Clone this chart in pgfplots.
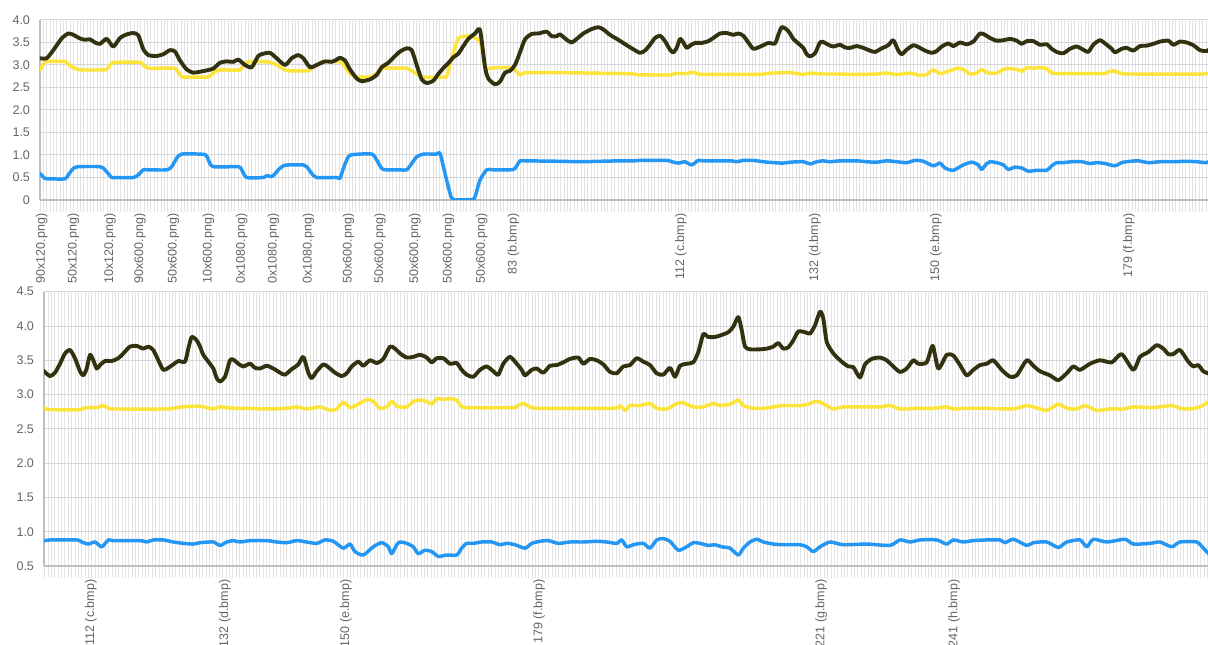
\documentclass[border=0pt]{standalone}
\usepackage{fontspec}
\setmainfont{Liberation Sans}
\usepackage{pgfplots}
\usepackage{pgfplotstable}
\pgfplotsset{compat=1.18}

\definecolor{darkline}{RGB}{50,50,16}
\definecolor{yellowline}{RGB}{252,228,58}
\definecolor{blueline}{RGB}{36,150,243}
\definecolor{gridmajor}{RGB}{214,214,214}
\definecolor{gridminor}{RGB}{228,228,228}
\definecolor{axisgray}{RGB}{190,190,190}
\definecolor{ticktext}{RGB}{100,100,100}

% x = position along the scrolled timeline (one grid step = 3.36 units)
\pgfplotstableread{
u v
0 3.15
6.7 3.15
13.3 3.33
21.7 3.59
28.3 3.70
33.3 3.67
40 3.59
45 3.56
50 3.57
55 3.50
60 3.47
66.7 3.58
73.3 3.41
80 3.60
86.7 3.68
93.3 3.71
98.3 3.66
103.3 3.35
108.3 3.22
116.7 3.20
123.3 3.24
130 3.33
135 3.30
140 3.10
146.7 2.90
153.3 2.83
160 2.85
166.7 2.88
173.3 2.92
180 3.05
186.7 3.08
193.3 3.07
198.3 3.12
205 3.00
211.7 2.95
218.3 3.20
223.3 3.25
230 3.27
236.7 3.15
245 3.00
251.7 3.15
258.3 3.22
263.3 3.15
270 2.95
276.7 3.00
285 3.08
291.7 3.07
296.7 3.12
300 3.16
305 3.10
310 2.90
316.7 2.70
321.7 2.64
330 2.68
336.7 2.78
341.7 2.95
348.3 3.05
355 3.20
360 3.30
366.7 3.37
371.7 3.33
376.7 3.00
381.7 2.68
386.7 2.60
393.3 2.65
398.3 2.80
403.3 2.93
408.3 3.04
413.3 3.17
418.3 3.25
423.3 3.42
428.3 3.58
435 3.70
440 3.78
445 2.96
448.3 2.70
455 2.57
460 2.63
465 2.83
470 2.87
475 3.00
480 3.28
485 3.57
491.7 3.69
498.3 3.70
506.7 3.74
511.7 3.64
516.7 3.64
520 3.68
526.7 3.56
531.7 3.50
536.7 3.58
543.3 3.70
551.7 3.80
558.3 3.84
563.3 3.79
570 3.67
578.3 3.56
586.7 3.44
594 3.34
600 3.27
605 3.32
610 3.45
615 3.60
620 3.65
625 3.53
630 3.34
633.3 3.28
636.7 3.38
640 3.58
643.3 3.50
646.7 3.38
650 3.43
655 3.49
661.7 3.49
668.3 3.53
673.3 3.60
680 3.70
686.7 3.71
693.3 3.67
698.3 3.70
703.3 3.65
708.3 3.50
713.3 3.36
718.3 3.39
723.3 3.44
728.3 3.49
735 3.48
738.3 3.67
741.7 3.84
746.7 3.79
750 3.70
753.3 3.58
758.3 3.48
763.3 3.38
766.7 3.24
770 3.19
775 3.26
780 3.50
783.3 3.51
788.3 3.45
793.3 3.41
800 3.45
805 3.39
810 3.38
816.7 3.42
823.3 3.38
830 3.32
835 3.29
841.7 3.37
848.3 3.44
853.3 3.55
858.3 3.32
861.7 3.24
866.7 3.34
873.3 3.44
878.3 3.40
885 3.32
891.7 3.27
896.7 3.31
901.7 3.41
908.3 3.48
913.3 3.42
920 3.50
926.7 3.46
933.3 3.52
940 3.70
945 3.67
950 3.60
956.7 3.54
963.3 3.55
970 3.58
976.7 3.54
981.7 3.47
986.7 3.53
993.3 3.53
1000 3.45
1006.7 3.46
1011.7 3.36
1016.7 3.29
1023.3 3.26
1030 3.36
1036.7 3.41
1043.3 3.34
1048.3 3.29
1053.3 3.45
1060 3.55
1066.7 3.45
1071.7 3.36
1075 3.28
1081.7 3.36
1086.7 3.38
1093.3 3.32
1100 3.42
1106.7 3.43
1113.3 3.47
1120 3.52
1128.3 3.54
1133.3 3.45
1140 3.52
1146.7 3.50
1153.3 3.44
1160 3.33
1166.7 3.31
1173.3 3.41
1180 3.43
1186.7 3.53
1193.3 3.48
1200 3.43
1206.7 3.31
1213.3 3.29
1220 3.39
1225 3.26
1230 3.42
1236.7 3.45
1243.3 3.47
1248.3 3.62
1253.3 3.88
1258.3 3.84
1265 3.84
1271.7 3.87
1278.3 3.91
1283.3 3.99
1288.3 4.13
1291.7 3.94
1295 3.70
1300 3.66
1310 3.66
1316.7 3.67
1323.3 3.70
1328.3 3.75
1333.3 3.67
1338.3 3.69
1343.3 3.79
1348.3 3.92
1355 3.91
1360 3.89
1365 4.01
1370 4.21
1373.3 4.11
1376.7 3.77
1383.3 3.60
1391.7 3.48
1398.3 3.41
1403.3 3.40
1410 3.25
1415 3.44
1421.7 3.52
1430 3.54
1436.7 3.50
1443.3 3.41
1450 3.33
1456.7 3.38
1463.3 3.50
1468.3 3.45
1476.7 3.47
1482.7 3.71
1488.3 3.38
1496.7 3.58
1503.3 3.57
1510 3.43
1516.7 3.28
1523.3 3.36
1530 3.43
1536.7 3.45
1543.3 3.50
1551.7 3.36
1560 3.26
1566.7 3.28
1576.7 3.50
1583.3 3.42
1590 3.34
1600 3.28
1608.3 3.21
1616.7 3.31
1623.3 3.41
1630 3.36
1640 3.45
1650 3.50
1661.7 3.47
1671.7 3.59
1683.3 3.36
1690 3.55
1698.3 3.62
1706.7 3.72
1713.3 3.67
1718.3 3.59
1723.3 3.59
1730 3.65
1738.3 3.48
1743.3 3.41
1748.3 3.43
1753.3 3.34
1760 3.30
}\darkdata

\pgfplotstableread{
u v
0 2.88
5 3.07
10 3.08
25 3.08
26.7 3.05
31.7 2.96
36.7 2.91
41.7 2.89
63.3 2.89
66.7 2.91
71.7 3.04
75 3.06
100 3.06
103.3 3.00
108.3 2.93
133.3 2.93
136.7 2.89
141.7 2.74
146.7 2.73
166.7 2.73
170 2.76
175 2.85
180 2.89
200 2.89
203.3 3.00
208.3 3.07
226.7 3.07
231.7 3.05
236.7 3.00
245 2.89
250 2.87
268.3 2.87
271.7 2.93
276.7 3.00
281.7 3.07
300 3.07
305 2.96
310 2.81
315 2.74
320 2.73
330 2.73
333.3 2.76
338.3 2.85
343.3 2.93
360 2.93
366.7 2.93
373.3 2.85
378.3 2.78
383.3 2.73
403.3 2.73
406.7 2.75
411.7 3.15
418.3 3.59
425 3.64
431.7 3.63
438.3 3.56
441.7 3.41
445 2.93
450 2.93
456.7 2.94
470 2.94
475 2.89
480 2.78
485 2.83
491.7 2.83
520 2.83
550 2.82
580 2.81
594 2.80
600 2.78
630 2.78
635 2.81
646.7 2.81
653.3 2.84
658.3 2.80
663.3 2.79
716.7 2.79
723.3 2.80
731.7 2.82
750 2.83
763.3 2.79
770 2.82
783.3 2.80
796.7 2.80
816.7 2.79
836.7 2.80
846.7 2.82
856.7 2.79
870 2.82
880 2.77
886.7 2.79
893.3 2.89
900 2.81
906.7 2.85
913.3 2.90
918.3 2.93
923.3 2.90
930 2.80
936.7 2.82
941.7 2.90
946.7 2.83
950 2.82
956.7 2.82
963.3 2.90
970 2.92
976.7 2.90
981.7 2.86
986.7 2.94
993.3 2.93
1000 2.94
1006.7 2.92
1010 2.85
1016.7 2.81
1063.3 2.81
1066.7 2.83
1073.3 2.87
1080 2.82
1090 2.80
1163.3 2.80
1170 2.84
1175 2.77
1180 2.84
1190 2.84
1200 2.87
1206.7 2.80
1216.7 2.79
1226.7 2.87
1233.3 2.88
1243.3 2.82
1253.3 2.82
1263.3 2.87
1270 2.84
1280 2.86
1288.3 2.92
1293.3 2.84
1303.3 2.80
1313.3 2.80
1323.3 2.82
1333.3 2.84
1350 2.84
1358.3 2.86
1365 2.90
1370 2.89
1376.7 2.84
1383.3 2.79
1393.3 2.82
1416.7 2.82
1430 2.82
1440 2.84
1450 2.79
1466.7 2.80
1483.3 2.80
1496.7 2.82
1503.3 2.79
1516.7 2.80
1536.7 2.80
1556.7 2.79
1566.7 2.80
1576.7 2.84
1583.3 2.82
1596.7 2.77
1608.3 2.86
1616.7 2.80
1626.7 2.79
1635 2.84
1646.7 2.77
1660 2.79
1673.3 2.79
1683.3 2.82
1700 2.81
1710 2.82
1721.7 2.84
1730 2.80
1740 2.79
1750 2.82
1760 2.91
}\yellowdata

\pgfplotstableread{
u v
0 0.59
5 0.48
10 0.47
25 0.47
28.3 0.56
33.3 0.70
38.3 0.74
60 0.74
65 0.67
71.7 0.50
76.7 0.50
93.3 0.50
98.3 0.56
103.3 0.67
108.3 0.67
126.7 0.67
131.7 0.74
136.7 0.93
141.7 1.02
165 1.01
168.3 0.89
173.3 0.74
198.3 0.74
201.7 0.67
206.7 0.50
223.3 0.50
226.7 0.54
231.7 0.52
235 0.58
238.3 0.67
243.3 0.76
248.3 0.78
263.3 0.78
266.7 0.74
271.7 0.59
276.7 0.50
296.7 0.50
300 0.48
303.3 0.70
308.3 0.96
313.3 1.01
331.7 1.02
336.7 0.89
341.7 0.70
346.7 0.67
360 0.67
366.7 0.67
371.7 0.81
376.7 0.96
383.3 1.02
396.7 1.02
400 1.04
405 0.59
410 0.15
413.3 0.01
431.7 0.01
435 0.07
440 0.44
446.7 0.67
453.3 0.67
470 0.67
475 0.70
480 0.87
485 0.87
520 0.86
540 0.85
560 0.86
580 0.87
594 0.87
600 0.88
626.7 0.88
631.7 0.85
638.3 0.82
645 0.85
651.7 0.78
658.3 0.88
663.3 0.87
690 0.87
696.7 0.85
703.3 0.88
713.3 0.88
723.3 0.85
733.3 0.83
743.3 0.82
750 0.84
763.3 0.85
770 0.80
776.7 0.85
783.3 0.87
790 0.85
800 0.87
816.7 0.87
826.7 0.85
836.7 0.84
846.7 0.87
856.7 0.85
866.7 0.83
875 0.88
883.3 0.86
893.3 0.76
900 0.82
905 0.71
913.3 0.66
923.3 0.78
931.7 0.84
938.3 0.78
941.7 0.68
946.7 0.81
950 0.85
956.7 0.83
963.3 0.78
968.3 0.68
975 0.73
981.7 0.71
988.3 0.64
996.7 0.66
1006.7 0.66
1011.7 0.76
1016.7 0.83
1023.3 0.83
1031.7 0.85
1041.7 0.85
1050 0.81
1056.7 0.83
1065 0.81
1075 0.76
1081.7 0.83
1090 0.86
1098.3 0.87
1108.3 0.83
1120 0.85
1133.3 0.85
1146.7 0.86
1156.7 0.85
1166.7 0.83
1171.7 0.88
1176.7 0.78
1183.3 0.81
1193.3 0.83
1200 0.76
1206.7 0.88
1213.3 0.90
1220 0.86
1228.3 0.73
1236.7 0.78
1243.3 0.84
1250 0.83
1258.3 0.80
1265 0.81
1271.7 0.78
1280 0.76
1288.3 0.66
1293.3 0.76
1300 0.85
1306.7 0.89
1313.3 0.85
1323.3 0.82
1333.3 0.81
1350 0.81
1356.7 0.78
1363.3 0.71
1370 0.78
1380 0.85
1393.3 0.81
1416.7 0.82
1440 0.80
1450 0.88
1460 0.85
1470 0.88
1486.7 0.88
1496.7 0.82
1503.3 0.88
1513.3 0.85
1523.3 0.87
1536.7 0.88
1550 0.88
1555 0.84
1563.3 0.89
1576.7 0.80
1583.3 0.84
1596.7 0.85
1608.3 0.77
1616.7 0.85
1630 0.88
1636.7 0.78
1643.3 0.89
1656.7 0.85
1675 0.89
1683.3 0.82
1700 0.83
1710 0.85
1721.7 0.78
1730 0.85
1746.7 0.85
1753.3 0.76
1760 0.66
}\bluedata

\pgfplotsset{
  panel/.style={
    scale only axis,
    axis x line*=bottom,
    axis y line*=left,
    axis line style={-, draw=axisgray, line width=0.8pt},
    ymajorgrids,
    xminorgrids,
    major grid style={draw=gridmajor, line width=0.75pt},
    minor grid style={draw=gridminor, line width=0.6pt},
    minor xtick={0,3.36,...,1760},
    tick align=outside,
    major tick length=0pt,
    minor tick length=9pt,
    tick style={draw=gridminor, line width=0.6pt},
    ticklabel style={font=\fontsize{9.4}{10}\selectfont, text=ticktext},
    % rotated labels: the shift below runs along the text, i.e. downwards
    xticklabel style={rotate=90, anchor=east, inner sep=1pt, xshift=-9pt},
    yticklabel style={anchor=east, xshift=-4pt},
    clip=true,
  },
  series/.style={no marks, smooth, tension=0.4, line join=round, line cap=round},
}

\begin{document}
\begin{tikzpicture}
% whole picture: 1208 x 645 units of 0.75pt
\useasboundingbox (0pt,0pt) rectangle (906pt,483.75pt);

% upper panel
\begin{scope}
\clip (0pt,268.5pt) rectangle (906pt,483.75pt);
\begin{axis}[panel,
  at={(30pt,333.75pt)}, anchor=south west,
  width=876pt, height=135pt,
  xmin=0, xmax=1168, ymin=0, ymax=4,
  ytick={0,0.5,1,1.5,2,2.5,3,3.5,4},
  yticklabels={0,0.5,1.0,1.5,2.0,2.5,3.0,3.5,4.0},
  xtick={1.7,33.3,70,100,133.3,168.3,201.7,233.3,268.3,308.3,340,375,408.3,441.7,473.3,641,775,896,1089},
  xticklabels={90x120.png),50x120.png),10x120.png),90x600.png),50x600.png),10x600.png),0x1080.png),0x1080.png),0x1080.png),50x600.png),50x600.png),50x600.png),50x600.png),50x600.png),83 (b.bmp),112 (c.bmp),132 (d.bmp),150 (e.bmp),179 (f.bmp)},
]
\addplot[series, yellowline, line width=2.6pt] table[x=u, y=v] {\yellowdata};
\addplot[series, blueline, line width=2.6pt] table[x=u, y=v] {\bluedata};
\addplot[series, darkline, line width=2.9pt] table[x=u, y=v] {\darkdata};
\end{axis}
\end{scope}

% lower panel
\begin{scope}
\clip (0pt,0pt) rectangle (906pt,268.5pt);
\begin{axis}[panel,
  at={(33pt,59.25pt)}, anchor=south west,
  width=873pt, height=205.7pt,
  xmin=594, xmax=1758, ymin=0.5, ymax=4.5,
  ytick={0.5,1,1.5,2,2.5,3,3.5,4,4.5},
  yticklabels={0.5,1.0,1.5,2.0,2.5,3.0,3.5,4.0,4.5},
  xtick={641,775,896,1089,1371,1504},
  xticklabels={112 (c.bmp),132 (d.bmp),150 (e.bmp),179 (f.bmp),221 (g.bmp),241 (h.bmp)},
]
\addplot[series, yellowline, line width=2.6pt] table[x=u, y=v] {\yellowdata};
\addplot[series, blueline, line width=2.6pt] table[x=u, y=v] {\bluedata};
\addplot[series, darkline, line width=2.9pt] table[x=u, y=v] {\darkdata};
\end{axis}
\end{scope}
\end{tikzpicture}
\end{document}
